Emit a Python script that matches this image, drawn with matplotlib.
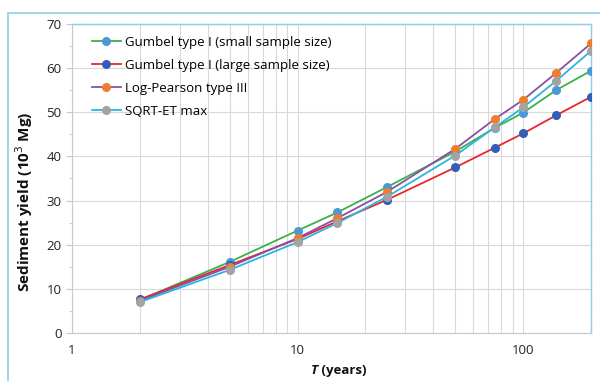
import matplotlib
matplotlib.use("Agg")
import matplotlib.pyplot as plt
from matplotlib.patches import Rectangle
from matplotlib.ticker import LogLocator, FixedLocator, MultipleLocator, NullFormatter

plt.rcParams['font.family'] = ['Open Sans', 'DejaVu Sans']

T = [2, 5, 10, 15, 25, 50, 75, 100, 140, 200]
gumbel_small = [7.5, 16.1, 23.2, 27.3, 33.1, 41.1, 46.5, 49.9, 55.0, 59.4]
gumbel_large = [7.6, 15.4, 21.3, 25.3, 30.2, 37.5, 42.0, 45.2, 49.3, 53.5]
log_pearson = [7.3, 15.0, 21.5, 26.0, 32.0, 41.7, 48.5, 52.8, 58.9, 65.6]
sqrt_et = [7.0, 14.3, 20.6, 24.9, 30.9, 40.2, 46.6, 51.1, 57.1, 63.9]

labels = ["Gumbel type I (small sample size)", "Gumbel type I (large sample size)",
          "Log-Pearson type III", "SQRT-ET max"]
series = [gumbel_small, gumbel_large, log_pearson, sqrt_et]
line_colors = ["#3bb04a", "#e8262e", "#8a4fa6", "#2bb5df"]
marker_colors = ["#4a9ad6", "#2f5fb8", "#f07d2a", "#a3a3a3"]

fig = plt.figure(figsize=(6, 3.81), dpi=100)
ax = fig.add_axes([0.12, 0.126, 0.865, 0.811])

for ys, lab, lc, mc in zip(series, labels, line_colors, marker_colors):
    ax.plot(T, ys, color=lc, lw=1.3, marker='o', ms=5.5, mfc=mc, mec=mc, label=lab, zorder=3)

ax.set_xscale('log')
ax.set_xlim(1, 200)
ax.set_ylim(0, 70)
ax.xaxis.set_major_locator(FixedLocator([1, 10, 100]))
ax.set_xticklabels(['1', '10', '100'])
ax.xaxis.set_minor_locator(LogLocator(base=10, subs=range(2, 10)))
ax.xaxis.set_minor_formatter(NullFormatter())
ax.yaxis.set_major_locator(MultipleLocator(10))
ax.yaxis.set_minor_locator(MultipleLocator(5))

ax.grid(True, which='major', axis='y', color='#d9d9d9', lw=0.8)
ax.grid(True, which='both', axis='x', color='#d9d9d9', lw=0.8)
ax.set_axisbelow(True)

for s in ['left', 'bottom']:
    ax.spines[s].set_color('#c8c8c8')
    ax.spines[s].set_linewidth(0.8)
for s in ['top', 'right']:
    ax.spines[s].set_color('#8fd0e8')
    ax.spines[s].set_linewidth(1.0)
    ax.spines[s].set_linestyle((0, (1, 0.6)))

ax.tick_params(axis='y', which='major', length=4, color='#c8c8c8', labelsize=9.5, labelcolor='#222222')
ax.tick_params(axis='y', which='minor', length=2, color='#c8c8c8')
ax.tick_params(axis='x', which='both', length=0, labelsize=9.5, labelcolor='#222222', pad=8)

ax.set_ylabel('Sediment yield (10$^3$ Mg)', fontweight='bold', fontsize=11, color='#111111')
ax.yaxis.set_label_coords(-0.072, 0.424)

fig.text(0.530, 0.018, ' (years)', fontweight='bold', fontsize=9.5, ha='left', va='baseline', color='#111111')
fig.text(0.530, 0.018, 'T', fontweight='bold', fontstyle='italic', fontsize=9.5, ha='right', va='baseline', color='#111111')

leg = ax.legend(loc='upper left', frameon=False, fontsize=9.5, handlelength=2.2,
                handletextpad=0.3, labelspacing=0.75, bbox_to_anchor=(0.015, 1.0))

fig.patches.append(Rectangle((8/600, -0.05), 1.2, 1 - 13/381 + 0.05, transform=fig.transFigure,
                             fill=False, edgecolor='#8fd0e8', lw=1.2))

fig.savefig('out.png', dpi=100)
